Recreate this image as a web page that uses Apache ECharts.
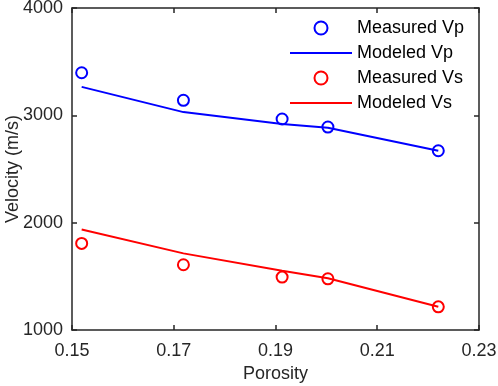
<!DOCTYPE html>
<html>
<head>
<meta charset="utf-8">
<script src="https://cdn.jsdelivr.net/npm/echarts@6/dist/echarts.min.js"></script>
<style>
  html, body { margin: 0; padding: 0; background: #fff; }
  #chart { width: 498px; height: 386px; }
</style>
</head>
<body>
<div id="chart"></div>
<script>
// Porosity of the five samples
const porosity = [0.1519, 0.1719, 0.1913, 0.2003, 0.2220];

// Velocities (m/s)
const measuredVp = [3397, 3140, 2966, 2891, 2670];
const modeledVp = [3265, 3030, 2920, 2885, 2670];
const measuredVs = [1807, 1608, 1493, 1477, 1216];
const modeledVs = [1937, 1714, 1552, 1482, 1216];

const xTicks = [0.15, 0.17, 0.19, 0.21, 0.23];
const yTicks = [1000, 2000, 3000, 4000];

const font = 'Liberation Sans, Arial, sans-serif';
const axisColor = '#262626';

function pairs(xs, ys) {
    return xs.map((x, i) => [x, ys[i]]);
}

function scatter(name, values, color) {
    return {
        name: name,
        type: 'scatter',
        data: pairs(porosity, values),
        symbol: 'circle',
        symbolSize: 11,
        itemStyle: { color: 'rgba(255,255,255,0)', borderColor: color, borderWidth: 2, opacity: 1 },
        z: 3
    };
}

function line(name, values, color) {
    return {
        name: name,
        type: 'line',
        data: pairs(porosity, values),
        symbol: 'none',
        lineStyle: { color: color, width: 2 },
        itemStyle: { color: color },
        z: 2
    };
}

const chart = echarts.init(document.getElementById('chart'));

const xBase = {
    type: 'value',
    min: 0.15,
    max: 0.23,
    interval: 0.02,
    axisLine: { lineStyle: { color: axisColor, width: 1.5 } },
    axisTick: { inside: true, length: 5, lineStyle: { color: axisColor, width: 1.5 } },
    splitLine: { show: false }
};
const yBase = {
    type: 'value',
    min: 1000,
    max: 4000,
    interval: 1000,
    axisLine: { lineStyle: { color: axisColor, width: 1.5 } },
    axisTick: { inside: true, length: 5, lineStyle: { color: axisColor, width: 1.5 } },
    splitLine: { show: false }
};

const option = {
    animation: false,
    backgroundColor: '#fff',
    grid: { left: 72, right: 19, top: 8, bottom: 56, outerBoundsMode: 'none', containLabel: false },
    legend: {
        orient: 'vertical',
        left: 284,
        top: 14,
        itemWidth: 62,
        itemHeight: 13,
        itemGap: 7,
        data: [
            'Measured Vp',
            { name: 'Modeled Vp', itemStyle: { opacity: 0 } },
            'Measured Vs',
            { name: 'Modeled Vs', itemStyle: { opacity: 0 } }
        ],
        textStyle: { fontFamily: font, fontSize: 18, color: '#000' }
    },
    xAxis: [
        Object.assign({}, xBase, {
            position: 'bottom',
            name: 'Porosity',
            nameLocation: 'middle',
            nameGap: 35,
            nameMoveOverlap: false,
            nameTextStyle: { fontFamily: font, fontSize: 18, color: '#262626' },
            axisLabel: {
                margin: 12,
                fontFamily: font, fontSize: 18, color: '#262626',
                formatter: v => xTicks.includes(+v.toFixed(2)) ? v.toFixed(2) : ''
            }
        }),
        Object.assign({}, xBase, { position: 'top', axisLabel: { show: false } })
    ],
    yAxis: [
        Object.assign({}, yBase, {
            position: 'left',
            name: 'Velocity (m/s)',
            nameLocation: 'middle',
            nameGap: 50,
            nameMoveOverlap: false,
            nameTextStyle: { fontFamily: font, fontSize: 18, color: '#262626' },
            axisLabel: {
                margin: 9,
                fontFamily: font, fontSize: 18, color: '#262626',
                formatter: v => yTicks.includes(v) ? String(v) : ''
            }
        }),
        Object.assign({}, yBase, { position: 'right', axisLabel: { show: false } })
    ],
    series: [
        scatter('Measured Vp', measuredVp, '#0000ff'),
        line('Modeled Vp', modeledVp, '#0000ff'),
        scatter('Measured Vs', measuredVs, '#ff0000'),
        line('Modeled Vs', modeledVs, '#ff0000')
    ]
};

option && chart.setOption(option);
</script>
</body>
</html>
